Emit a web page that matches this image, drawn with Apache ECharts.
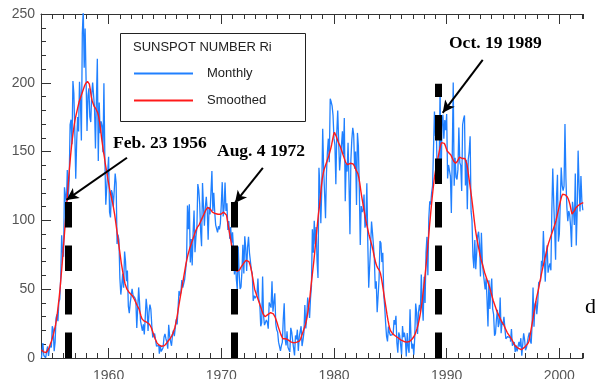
<!DOCTYPE html>
<html>
<head>
<meta charset="utf-8">
<script src="https://cdn.jsdelivr.net/npm/echarts@6/dist/echarts.min.js"></script>
<style>html,body{margin:0;padding:0;background:#fff}#c{width:595px;height:379px}</style>
</head>
<body>
<div id="c"></div>
<script>
// ---- data ----
var startYear = 1954; // first month = Jan 1954
var monthly = [
0.2,0.5,10.9,1.8,0.8,0.2,4.8,8.4,1.5,7.0,9.2,7.6,
23.1,20.8,4.9,11.3,28.9,31.7,26.7,40.7,42.7,58.5,89.2,76.9,
73.6,124.0,118.4,110.7,136.6,116.6,129.1,169.6,173.2,155.3,201.3,192.1,
165.0,130.2,157.4,175.2,164.6,200.7,187.2,158.0,235.8,253.8,210.9,239.4,
202.5,164.9,190.7,196.0,175.3,171.5,191.4,200.2,201.2,181.5,152.3,187.6,
217.4,143.1,185.7,163.3,172.0,168.7,149.6,199.6,145.2,111.4,124.0,125.0,
146.3,106.0,102.2,122.0,119.6,110.2,121.7,134.1,127.2,82.8,89.6,85.6,
57.9,46.1,53.0,61.4,51.0,77.4,70.2,55.8,63.6,37.7,32.6,39.9,
38.7,50.3,45.6,46.4,43.7,42.0,21.8,21.8,51.3,39.5,26.9,23.2,
19.8,24.4,17.1,29.3,43.0,35.9,19.6,33.2,38.8,35.3,23.4,14.9,
15.3,17.7,16.5,8.6,9.5,9.1,3.1,9.3,4.7,6.1,7.4,15.1,
17.5,14.2,11.7,6.8,24.1,15.9,11.9,8.9,16.8,20.1,15.8,17.0,
28.2,24.4,25.3,48.7,45.3,47.7,56.7,51.2,50.2,57.2,57.2,70.4,
110.9,93.6,111.8,69.5,86.5,67.3,91.5,107.2,76.8,88.2,94.3,126.4,
121.8,111.9,92.2,81.2,127.2,110.3,96.1,109.3,117.2,107.7,86.0,109.8,
104.4,120.5,135.8,106.8,120.0,106.0,96.8,98.0,91.3,95.7,93.5,97.9,
111.5,127.8,102.9,109.5,127.5,106.8,112.5,93.0,99.5,86.6,95.2,83.5,
91.3,79.0,60.7,71.8,57.5,49.8,81.0,61.4,50.2,51.7,63.2,82.2,
61.5,88.4,80.1,63.2,80.5,88.0,76.5,76.8,64.0,61.3,41.6,45.3,
43.4,42.9,46.0,57.7,42.4,39.5,23.1,25.6,59.3,30.7,23.9,23.3,
27.6,26.0,21.3,40.3,39.5,36.6,55.8,33.6,40.2,47.1,25.0,20.5,
18.9,11.5,11.5,5.1,9.0,11.4,28.2,39.7,13.9,9.1,19.4,7.8,
8.1,4.3,21.9,18.8,12.4,12.2,1.9,16.4,13.5,20.6,5.2,15.3,
16.4,23.1,8.7,12.9,18.6,38.5,21.4,30.1,44.0,43.8,29.1,43.2,
51.9,93.6,76.5,99.7,82.7,95.1,70.4,58.1,138.2,125.1,97.9,122.7,
166.6,137.5,138.0,101.5,134.4,149.5,159.4,142.2,188.4,186.2,183.3,176.3,
159.6,155.0,126.2,164.1,179.9,157.3,136.3,135.4,155.0,164.7,147.9,174.4,
114.0,141.3,135.5,156.4,127.5,90.0,143.8,158.7,167.3,162.4,137.5,150.1,
111.2,163.6,153.8,122.0,82.2,110.4,106.1,107.6,118.8,94.7,98.1,127.0,
84.3,51.0,66.5,80.7,99.2,91.1,82.2,71.8,50.3,55.8,33.3,33.4,
57.0,85.1,83.5,69.7,76.4,46.1,37.4,25.5,15.7,12.0,22.8,18.7,
16.5,15.9,17.2,16.2,27.5,24.2,30.7,11.1,3.9,18.6,16.2,17.3,
2.5,23.2,15.1,18.5,13.7,1.1,18.1,7.4,3.8,35.4,15.2,6.8,
10.4,2.4,14.7,39.6,33.0,17.4,33.0,38.7,33.9,60.6,39.9,27.1,
59.0,40.0,76.2,88.0,60.1,101.8,113.8,111.6,120.1,125.1,125.1,179.2,
161.3,165.1,131.4,130.6,138.5,196.2,126.9,168.9,176.7,159.4,173.0,165.5,
177.3,130.5,140.3,140.3,132.2,105.4,149.4,200.3,125.2,145.5,131.4,129.7,
136.9,167.5,141.9,140.0,121.3,169.7,173.7,176.3,125.3,144.1,108.2,144.4,
150.0,161.1,106.7,99.8,73.8,65.2,85.7,64.5,63.9,88.7,91.8,82.6,
59.3,91.0,69.8,62.2,61.3,49.8,57.9,42.3,22.9,56.5,35.6,48.9,
57.8,35.5,31.7,16.1,17.8,28.0,35.1,22.5,25.7,44.0,18.0,26.2,
24.2,29.9,31.1,14.0,14.5,15.6,14.5,14.3,11.8,21.1,9.0,10.0,
11.5,4.4,9.2,4.8,5.5,11.8,8.2,14.4,1.6,0.9,17.9,13.3,
5.7,7.6,8.7,15.5,18.5,12.7,10.4,24.4,51.3,22.8,39.0,41.2,
31.9,40.3,54.8,53.4,56.3,70.7,66.6,92.2,92.9,55.5,74.0,81.9,
62.0,66.3,68.8,63.7,106.4,137.7,113.5,93.7,71.5,116.7,133.2,84.6,
90.1,112.9,138.5,125.5,121.6,124.9,170.1,130.5,109.7,99.4,106.8,104.4,
95.6,80.6,113.5,107.7,96.6,134.0,81.8,106.4,150.7,125.5,106.5,132.2,
114.1,107.4
];
var smoothed = [
6.0,5.5,4.5,3.4,3.5,4.0,4.8,6.0,7.5,9.2,11.0,13.0,
15.5,18.0,21.0,24.0,28.0,33.0,39.0,45.0,52.0,60.0,68.0,77.0,
86,95,104,113,122,131,139,147,154,160,165,170,
174,177,180,183,186,188,190,192,194,196,198,199.5,
200.5,201,201.3,199,195,190,187,185,183,182,181,180,
178,175,171,166,160,155,150,146,141,137,133,129,
125,121,118,115,112,108,104,99,94,89,84,79,
74,69,65,61,57,54,52,50,49,48,47,46.5,
46,45,44,42.5,41,39.5,38,37,35.5,33,30.5,28.5,
27.5,27,27,26.5,26,25.5,25,24.5,23.5,22,20,18,
16,14,12.5,11,10,9.5,9,8.5,8.5,8.3,8.5,9,
9.5,10.5,11.5,12.5,13.5,14,15,16.5,18,20,22,25,
28.5,32.5,37,41,45,49,53,57,61,65,69,72,
75,77.5,80,82,84,86,88,90,92,93.5,95,96,
97,98.5,100,101.5,103,104.5,106,107.5,108.5,109.5,110,109,
108,107,106,106,105.5,105,105,104.5,104.5,104,104,104.5,
105,105.5,106,106,105,104,100,96,92,88,84,79,
75,71,68,65,63,62,62.5,64,65.5,66.5,67.5,68.5,
69.5,70.5,71,71.5,71,70,68,65.5,62,58,54,50,
48,46,44,42,40,38,36,34,32,31,30,30,
30.5,31.5,32,32.5,33,33,32.5,32,31,29.5,27.5,25.5,
23,21,19,17,15.5,14,13,13.5,14,14.5,14,13,
12.5,12,11.5,11,11,11,11,11.5,11.5,11.5,12,12.5,
14,16,18,20,22,24,27,30.5,35,40,45,52,
58,64,70,77,84,91,98,105,110,117,124,130,
134,137,139,141,143,145,147,149.5,152,155,158.5,162,
164,163,161,159,157,155.5,154,152,150,148,146,144,
142,141,140.5,140.5,141,141.5,142,142,141,140,138.5,136.5,
135.5,134,131,127,122,117.5,113.5,109.5,105.5,101.5,98,95,
92,89,86.5,84,81.5,78.5,75,72,69,67,65.5,64.5,
63.5,61.5,58,54,49.5,45,40.5,36,31.5,27.5,24,21,
19.5,18.5,17.5,17,16.5,16,15.5,15,14.5,14,13.5,13,
12.5,12,12,12,12,11.5,11.5,11.5,12,12.5,13,14,
15,16,17.5,19.5,21.5,24,27,30.5,34.5,39.5,45,51,
57,63.5,70.5,78,86,94,101.5,109,116,122.5,128.5,133.5,
137.5,141,144.5,148,151.5,154.5,156.5,157,157,156,154.5,152.5,
150.5,149.5,149,148.5,147.5,146,144.5,143,142,141.5,142,143,
144.5,146,146,145.5,145,145,145.5,145,144,141,137,132,
127,122,117,111.5,105.5,99.5,94,89.5,85.5,82,78.5,75,
72,69.5,67,64.5,62,60,58,56,54,52,49.5,47,
44.5,42,40,38,36,34,32.5,31,29.5,28,26.5,25.5,
24.5,23,21.5,20,18.5,17.5,16.5,15.5,14.5,13.5,12,10.5,
9.5,8.5,8,7.5,7,6.5,6,6,6,6.5,7.5,8.5,
9,9.5,10.5,12,15,19,23,27,31,35,39,43,
46,49,52.5,56,59.5,63,66,69,72,75,78,81,
83.5,85.5,87.5,89.5,91.5,93.5,95.5,97.5,100,103,106,109,
112,115,117.5,119,119.5,119,118.5,118,117,115.5,113.5,111,
107.5,104.5,104,105.5,107.5,109,110,110.5,111,111.5,112,113,
113,113
];
var decadeTicks = [1960, 1970, 1980, 1990, 2000];
var eventLabels = ['Feb. 23 1956', 'Aug. 4 1972', 'Oct. 19 1989'];
var eventX = [1956.44, 1971.12, 1989.24];
var eventTop = [113.5, 113.5, 199.3];
var arrowFrom = [[1961.63, 145.5], [1973.69, 138.2], [1993.2, 216.7]];
var arrowTo = [[1956.26, 114.9], [1971.21, 112.7], [1989.65, 178.2]];

// ---- build ----
function toXY(arr) {
  return arr.map(function (v, i) { return [startYear + (i + 0.5) / 12, v]; });
}
var axisColor = '#333';
var xMin = 1954, xMax = 2002.1;
function minorX(pos) {
  return { type: 'value', position: pos, min: xMin, max: xMax, interval: 1,
    axisLine: { show: true, onZero: false, lineStyle: { color: axisColor, width: 1 } },
    axisTick: { show: true, inside: true, length: 5, lineStyle: { color: axisColor } },
    axisLabel: { show: false }, splitLine: { show: false } };
}
function majorX(pos, labels) {
  return { type: 'value', position: pos, min: xMin, max: xMax,
    axisLine: { show: false, onZero: false },
    axisTick: { show: true, inside: true, length: 10, customValues: decadeTicks, lineStyle: { color: axisColor } },
    axisLabel: { show: labels, customValues: decadeTicks, fontSize: 14, color: '#555',
      fontFamily: 'Liberation Sans, Arial, sans-serif', margin: 11,
      formatter: function (v) { return String(Math.round(v)); } },
    splitLine: { show: false } };
}
var markLineData = [];
eventX.forEach(function (x, i) {
  markLineData.push([{ coord: [x, 0], symbol: 'none',
      lineStyle: { type: [25.5, 18], width: 7, color: '#000', cap: 'butt' } },
    { coord: [x, eventTop[i]], symbol: 'none' }]);
});
arrowFrom.forEach(function (p, i) {
  markLineData.push([{ coord: p, symbol: 'none',
      lineStyle: { type: 'solid', width: 2, color: '#000' } },
    { coord: arrowTo[i], symbol: 'arrow', symbolSize: [9, 12] }]);
});

var chart = echarts.init(document.getElementById('c'), null, { renderer: 'canvas' });
var serifBold = 'bold 17.5px "Liberation Serif", "Times New Roman", serif';
chart.setOption({
  animation: false,
  backgroundColor: '#fff',
  grid: { left: 41, right: 12, top: 14, bottom: 21, containLabel: false, outerBoundsMode: 'none' },
  xAxis: [minorX('bottom'), majorX('bottom', true), minorX('top'), majorX('top', false)],
  yAxis: { type: 'value', min: 0, max: 250, interval: 50,
    axisLine: { show: true, lineStyle: { color: axisColor } },
    axisTick: { show: true, inside: true, length: 10, lineStyle: { color: axisColor } },
    minorTick: { show: true, splitNumber: 5, length: 5, lineStyle: { color: axisColor } },
    splitLine: { show: false }, minorSplitLine: { show: false },
    axisLabel: { fontSize: 14, color: '#555', fontFamily: 'Liberation Sans, Arial, sans-serif', margin: 6 } },
  legend: { data: ['Monthly', 'Smoothed'], orient: 'vertical', left: 133, top: 67,
    itemWidth: 59, itemHeight: 14, itemGap: 14, padding: 0,
    itemStyle: { opacity: 0 },
    textStyle: { fontSize: 13, color: '#222', fontFamily: 'Liberation Sans, Arial, sans-serif', padding: [0, 0, 0, 9] } },
  graphic: [
    { type: 'rect', shape: { x: 120.5, y: 33.5, width: 185, height: 88 },
      style: { fill: 'rgba(0,0,0,0)', stroke: '#222', lineWidth: 1 }, z: 10 },
    { type: 'text', x: 133, y: 47, z: 10,
      style: { text: 'SUNSPOT NUMBER Ri', font: '13px "Liberation Sans", Arial, sans-serif', fill: '#222', align: 'left', verticalAlign: 'middle' } },
    { type: 'text', x: 113, y: 143, z: 10,
      style: { text: eventLabels[0], font: serifBold, fill: '#000', align: 'left', verticalAlign: 'middle' } },
    { type: 'text', x: 217, y: 151, z: 10,
      style: { text: eventLabels[1], font: serifBold, fill: '#000', align: 'left', verticalAlign: 'middle' } },
    { type: 'text', x: 449, y: 43, z: 10,
      style: { text: eventLabels[2], font: serifBold, fill: '#000', align: 'left', verticalAlign: 'middle' } },
    { type: 'text', x: 585, y: 318, z: 10,
      style: { text: 'd', font: '22px "Liberation Serif", "Times New Roman", serif', fill: '#000', align: 'left', verticalAlign: 'bottom' } }
  ],
  series: [
    { name: 'Monthly', type: 'line', xAxisIndex: 0, data: toXY(monthly), step: 'middle',
      symbol: 'none', lineStyle: { color: '#2080ff', width: 1.3 }, itemStyle: { color: '#2080ff' }, z: 2 },
    { name: 'Smoothed', type: 'line', xAxisIndex: 0, data: toXY(smoothed),
      symbol: 'none', lineStyle: { color: '#ff1a1a', width: 1.4 }, itemStyle: { color: '#ff1a1a' }, z: 3 },
    { name: 'events', type: 'line', xAxisIndex: 0, data: [], z: 5,
      markLine: { silent: true, animation: false, label: { show: false }, data: markLineData } }
  ]
});
</script>
</body>
</html>
